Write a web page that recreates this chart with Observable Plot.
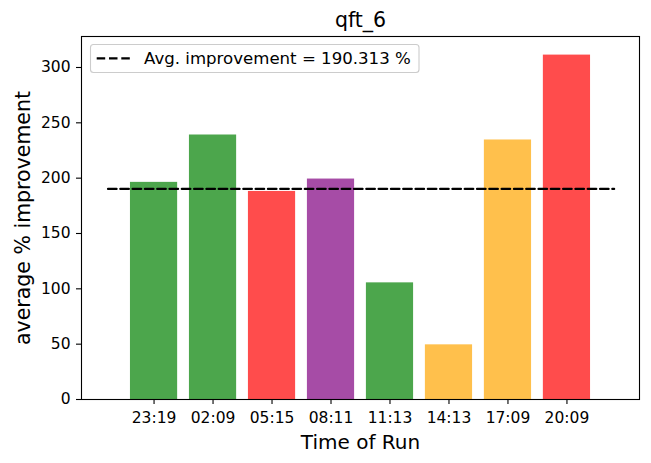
<!DOCTYPE html>
<html>
<head>
<meta charset="utf-8">
<script src="https://cdn.jsdelivr.net/npm/d3@7"></script>
<script src="https://cdn.jsdelivr.net/npm/@observablehq/plot@0.6"></script>
<style>
  html, body { margin: 0; padding: 0; background: white; }
  #chart { position: relative; width: 651px; height: 463px; }
</style>
</head>
<body>
<div id="chart"></div>
<script>
// ---- data ----
const times = ["23:19", "02:09", "05:15", "08:11", "11:13", "14:13", "17:09", "20:09"];
const improvements = [196.2, 239.0, 188.0, 199.2, 105.4, 49.4, 234.5, 311.2];
const barColors = ["green", "green", "red", "purple", "green", "orange", "orange", "red"];
const avgImprovement = 190.313;
const avgLineExtent = [-0.78, 7.8];
const yTicks = [0, 50, 100, 150, 200, 250, 300];
const titleText = "qft_6";
const xLabel = "Time of Run";
const yLabel = "average % improvement";

const rows = times.map((t, i) => ({ i, t, v: improvements[i], c: barColors[i] }));
const avgRows = avgLineExtent.map(x => ({ x, y: avgImprovement }));
const halfBar = 0.4;

const font = "DejaVu Sans, sans-serif";

const svg = Plot.plot({
  width: 651,
  height: 463,
  marginTop: 36,
  marginBottom: 64,
  marginLeft: 81,
  marginRight: 12,
  style: { fontFamily: font, fontSize: "15.5px", color: "black", background: "white" },
  x: { type: "linear", domain: [-1.23, 8.23] },
  y: { domain: [0, 328] },
  marks: [
    Plot.rectY(rows, {
      x1: d => d.i - halfBar, x2: d => d.i + halfBar, y1: 0, y2: "v",
      fill: "c", fillOpacity: 0.7
    }),
    Plot.lineY(avgRows, {
      x: "x", y: "y", stroke: "black", strokeWidth: 2.3, strokeDasharray: "8.5,3.8"
    }),
    Plot.frame({ stroke: "black", strokeWidth: 1.1 }),
    Plot.axisX({
      ticks: times.map((_, i) => i), tickFormat: i => times[i],
      tickSize: 5, tickPadding: 7, label: null, fontSize: 15.5, strokeWidth: 1.1
    }),
    Plot.axisY({
      ticks: yTicks, tickFormat: d => String(d),
      tickSize: 5, tickPadding: 6, label: null, fontSize: 15.5, strokeWidth: 1.1
    }),
    Plot.text([titleText], {
      frameAnchor: "top", textAnchor: "middle", lineAnchor: "middle",
      dy: -15.6, fontSize: 20.5, text: d => d
    }),
    Plot.text([xLabel], {
      frameAnchor: "bottom", textAnchor: "middle", lineAnchor: "middle",
      dy: 42.6, fontSize: 20, text: d => d
    }),
    Plot.text([yLabel], {
      frameAnchor: "left", textAnchor: "middle", lineAnchor: "middle",
      dx: -58.5, rotate: -90, fontSize: 20.5, text: d => d
    })
  ]
});

document.getElementById("chart").appendChild(svg);

// legend (inside axes, upper left)
const s = d3.select(svg);
const lg = s.append("g").attr("font-family", font);
lg.append("rect")
  .attr("x", 90.5).attr("y", 44.5).attr("width", 328.5).attr("height", 28)
  .attr("rx", 3).attr("fill", "white").attr("fill-opacity", 0.8)
  .attr("stroke", "#cccccc").attr("stroke-width", 1.1);
lg.append("line")
  .attr("x1", 96.7).attr("x2", 130).attr("y1", 58.3).attr("y2", 58.3)
  .attr("stroke", "black").attr("stroke-width", 2.3).attr("stroke-dasharray", "8.5,3.8");
lg.append("text")
  .attr("x", 144).attr("y", 64.3).attr("font-size", 16.6).attr("fill", "black")
  .attr("text-anchor", "start")
  .text("Avg. improvement = " + avgImprovement.toFixed(3) + " %");
</script>
</body>
</html>
